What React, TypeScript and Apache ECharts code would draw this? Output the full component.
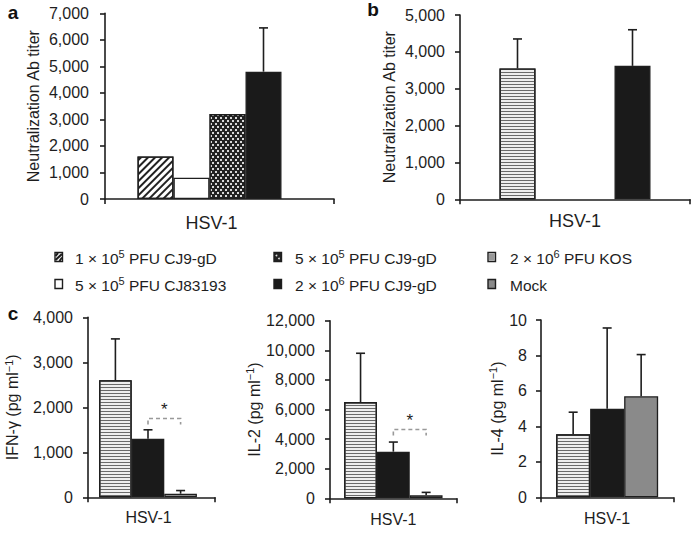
import React, { useEffect, useRef } from "react";
import * as echarts from "echarts";

// ---------- data ----------
const CATEGORIES = ["HSV-1"];

const GROUP_LABELS = [
  "1 × 10{sup|5} PFU CJ9-gD",
  "5 × 10{sup|5} PFU CJ83193",
  "5 × 10{sup|5} PFU CJ9-gD",
  "2 × 10{sup|6} PFU CJ9-gD",
  "2 × 10{sup|6} PFU KOS",
  "Mock",
];

// panel a: neutralization titer (groups: CJ9-gD 1e5, CJ83193 5e5, CJ9-gD 5e5, CJ9-gD 2e6)
const TITER_A = [1600, 800, 3200, 4800];
const TITER_A_ERR = [0, 0, 0, 1650];

// panel b: KOS 2e6, CJ9-gD 2e6
const TITER_B = [3550, 3620];
const TITER_B_ERR = [800, 980];

// panel c: KOS, CJ9-gD 2e6, Mock
const IFN = [2600, 1300, 80];
const IFN_ERR = [920, 200, 70];
const IL2 = [6500, 3150, 200];
const IL2_ERR = [3300, 650, 200];
const IL4 = [3.55, 5.0, 5.7];
const IL4_ERR = [1.25, 4.55, 2.35];

// significance brackets: [fromSlot, toSlot, level]
const IFN_SIG = [1, 2, 1750];
const IL2_SIG = [1, 2, 4650];

const Y_MAX = [7000, 5000, 4000, 12000, 10];
const Y_STEP = [1000, 1000, 1000, 2000, 2];

// ---------- styles ----------
const FONT = "'Liberation Sans', Arial, Helvetica, sans-serif";
const INK = "#1e1e1e";

const STYLE_HATCH = {
  color: "#ffffff",
  borderColor: INK,
  borderWidth: 1.3,
  decal: {
    symbol: "rect",
    symbolSize: 1,
    color: "#222",
    dashArrayX: [1, 0],
    dashArrayY: [2, 3],
    rotation: -Math.PI / 4,
  },
};
const STYLE_WHITE = { color: "#ffffff", borderColor: INK, borderWidth: 1.3 };
const STYLE_DOTS = {
  color: "#222",
  borderColor: INK,
  borderWidth: 1.3,
  decal: {
    symbol: "rect",
    symbolSize: 1,
    color: "#d8d8d8",
    dashArrayX: [
      [1.3, 2.7],
      [0, 2, 1.3, 0.7],
    ],
    dashArrayY: [1.3, 0.7],
    rotation: 0,
  },
};
const STYLE_BLACK = { color: "#1a1a1a", borderColor: INK, borderWidth: 1.3 };
const STYLE_STRIPE = {
  color: "#eeeeee",
  borderColor: INK,
  borderWidth: 1.3,
  decal: {
    symbol: "rect",
    symbolSize: 1,
    color: "#6a6a6a",
    dashArrayX: [1, 0],
    dashArrayY: [1, 2],
    rotation: 0,
  },
};
const STYLE_MOCK = { color: "#8a8a8a", borderColor: INK, borderWidth: 1.3 };

type Panel = {
  grid: { left: number; top: number; width: number; height: number };
  name: string;
  nameGap: number;
  labelMargin: number;
  xLabelMargin: number;
  xLabelSize: number;
  xLabelShift: number;
  values: number[];
  errs: number[];
  styles: any[];
  widths: number[]; // includes trailing spacer slot if any
  gap: number;
  sig?: number[];
};

const PANELS: Panel[] = [
  {
    grid: { left: 105, top: 13.3, width: 229, height: 185.7 },
    name: "Neutralization Ab titer",
    nameGap: 64,
    labelMargin: 16,
    xLabelMargin: 15,
    xLabelSize: 18,
    xLabelShift: 16,
    values: TITER_A,
    errs: TITER_A_ERR,
    styles: [STYLE_HATCH, STYLE_WHITE, STYLE_DOTS, STYLE_BLACK],
    widths: [36, 36, 36, 36, 20],
    gap: 0,
  },
  {
    grid: { left: 460, top: 15, width: 230, height: 184.3 },
    name: "Neutralization Ab titer",
    nameGap: 63,
    labelMargin: 15,
    xLabelMargin: 13,
    xLabelSize: 18,
    xLabelShift: 0,
    values: TITER_B,
    errs: TITER_B_ERR,
    styles: [STYLE_STRIPE, STYLE_BLACK],
    widths: [36, 36],
    gap: 79,
  },
  {
    grid: { left: 88, top: 317.3, width: 127, height: 180 },
    name: "IFN-γ (pg ml{sup|−1})",
    nameGap: 66,
    labelMargin: 15,
    xLabelMargin: 12,
    xLabelSize: 16,
    xLabelShift: 6,
    values: IFN,
    errs: IFN_ERR,
    styles: [STYLE_STRIPE, STYLE_BLACK, STYLE_MOCK],
    widths: [32.6, 32.6, 32.6, 7],
    gap: 0,
    sig: IFN_SIG,
  },
  {
    grid: { left: 330, top: 320.7, width: 126.7, height: 177.6 },
    name: "IL-2 (pg ml{sup|−1})",
    nameGap: 66,
    labelMargin: 15,
    xLabelMargin: 13,
    xLabelSize: 16,
    xLabelShift: 0,
    values: IL2,
    errs: IL2_ERR,
    styles: [STYLE_STRIPE, STYLE_BLACK, STYLE_MOCK],
    widths: [32.8, 32.8, 32.8],
    gap: 0,
    sig: IL2_SIG,
  },
  {
    grid: { left: 541, top: 320, width: 132.3, height: 177.3 },
    name: "IL-4 (pg ml{sup|−1})",
    nameGap: 34,
    labelMargin: 14,
    xLabelMargin: 13,
    xLabelSize: 16,
    xLabelShift: 0,
    values: IL4,
    errs: IL4_ERR,
    styles: [STYLE_STRIPE, STYLE_BLACK, STYLE_MOCK],
    widths: [34, 34, 34],
    gap: 0,
  },
];

function slotOffset(widths: number[], gap: number, slot: number) {
  const total = widths.reduce((s, w) => s + w, 0) + gap * (widths.length - 1);
  let off = -total / 2;
  for (let j = 0; j < slot; j++) off += widths[j] + gap;
  return off + widths[slot] / 2;
}

function buildOption() {
  const grids: any[] = [];
  const xAxes: any[] = [];
  const yAxes: any[] = [];
  const series: any[] = [];

  PANELS.forEach((p, k) => {
    grids.push({ ...p.grid, containLabel: false });
    xAxes.push({
      type: "category",
      gridIndex: k,
      data: CATEGORIES,
      boundaryGap: true,
      axisLine: { show: true, lineStyle: { color: INK, width: 1.6 } },
      axisTick: { show: true, length: 5, inside: false, alignWithLabel: false, lineStyle: { color: INK, width: 1.6 } },
      axisLabel: {
        color: INK,
        fontSize: p.xLabelSize,
        fontFamily: FONT,
        margin: p.xLabelMargin,
        padding: [0, p.xLabelShift, 0, 0],
      },
      splitLine: { show: false },
    });
    yAxes.push({
      type: "value",
      gridIndex: k,
      min: 0,
      max: Y_MAX[k],
      interval: Y_STEP[k],
      name: p.name,
      nameLocation: "middle",
      nameGap: p.nameGap,
      nameTextStyle: {
        color: INK,
        fontSize: 16,
        fontFamily: FONT,
        rich: { sup: { fontSize: 11, fontFamily: FONT, color: INK, padding: [0, 0, 8, 0] } },
      },
      axisLine: { show: true, lineStyle: { color: INK, width: 1.6 } },
      axisTick: { show: true, length: 5, inside: false, lineStyle: { color: INK, width: 1.6 } },
      axisLabel: {
        color: INK,
        fontSize: 16,
        fontFamily: FONT,
        margin: p.labelMargin,
        formatter: (v: number) => v.toLocaleString("en-US"),
      },
      splitLine: { show: false },
    });

    const barGap = p.gap === 0 ? "0%" : (p.gap / p.widths[0]) * 100 + "%";
    p.widths.forEach((w, i) => {
      const isData = i < p.values.length;
      series.push({
        type: "bar",
        xAxisIndex: k,
        yAxisIndex: k,
        barWidth: w,
        barGap,
        silent: true,
        data: isData ? [p.values[i]] : ["-"],
        itemStyle: isData ? p.styles[i] : { color: "transparent" },
      });
    });

    const widths = p.widths;
    const gap = p.gap;
    series.push({
      type: "custom",
      xAxisIndex: k,
      yAxisIndex: k,
      silent: true,
      z: 5,
      encode: { x: 0, y: 1 },
      data: p.values.map((v, i) => [0, v, p.errs[i], i]),
      renderItem: (params: any, api: any) => {
        const v = api.value(1);
        const e = api.value(2);
        const slot = api.value(3);
        if (!e) return { type: "group", children: [] };
        const base = api.coord([0, v]);
        const top = api.coord([0, v + e]);
        const x = base[0] + slotOffset(widths, gap, slot);
        const ls = { stroke: INK, lineWidth: 1.6 };
        return {
          type: "group",
          children: [
            { type: "line", shape: { x1: x, y1: base[1], x2: x, y2: top[1] }, style: ls },
            { type: "line", shape: { x1: x - 4.5, y1: top[1], x2: x + 4.5, y2: top[1] }, style: ls },
          ],
        };
      },
    });

    if (p.sig) {
      series.push({
        type: "custom",
        xAxisIndex: k,
        yAxisIndex: k,
        silent: true,
        z: 6,
        encode: { x: 0, y: 1 },
        data: [[0, p.sig[2], p.sig[0], p.sig[1]]],
        renderItem: (params: any, api: any) => {
          const y = api.value(1);
          const a = api.value(2);
          const b = api.value(3);
          const c = api.coord([0, y]);
          const xa = c[0] + slotOffset(widths, gap, a);
          const xb = c[0] + slotOffset(widths, gap, b);
          return {
            type: "group",
            children: [
              {
                type: "polyline",
                shape: { points: [[xa, c[1] + 6], [xa, c[1]], [xb, c[1]], [xb, c[1] + 6]] },
                style: { stroke: "#999", lineWidth: 1.6, fill: "none", lineDash: [4, 3] },
              },
              {
                type: "text",
                x: (xa + xb) / 2,
                y: c[1] - 9,
                style: { text: "*", fontSize: 17, fontFamily: FONT, fill: INK, align: "center", verticalAlign: "middle" },
              },
            ],
          };
        },
      });
    }
  });

  // legend built from graphic elements
  const LEGEND_COLS = [55, 274, 488];
  const LEGEND_TEXT_X = [75, 295, 510];
  const LEGEND_ROWS = [257, 284];
  const order = [
    [0, 0, 0],
    [1, 0, 1],
    [2, 1, 0],
    [3, 1, 1],
    [4, 2, 0],
    [5, 2, 1],
  ];
  const graphics: any[] = [];
  const iconW = 7.5;
  const iconH = 9;
  order.forEach(([gi, col, row]) => {
    const x = LEGEND_COLS[col];
    const y = LEGEND_ROWS[row] - iconH / 2;
    const border = { stroke: INK, lineWidth: 1.4 };
    const icon: any[] = [];
    if (gi === 0) {
      icon.push({ type: "rect", shape: { x, y, width: iconW, height: iconH }, style: { fill: "#fff", ...border } });
      icon.push({ type: "line", shape: { x1: x + 0.5, y1: y + iconH - 1.5, x2: x + iconW - 0.5, y2: y + 1.5 }, style: { stroke: INK, lineWidth: 2.2 } });
      icon.push({ type: "line", shape: { x1: x + 0.5, y1: y + 3.5, x2: x + 3, y2: y + 0.5 }, style: { stroke: INK, lineWidth: 2 } });
      icon.push({ type: "line", shape: { x1: x + 4.5, y1: y + iconH - 0.5, x2: x + iconW - 0.5, y2: y + iconH - 4 }, style: { stroke: INK, lineWidth: 2 } });
    } else if (gi === 1) {
      icon.push({ type: "rect", shape: { x, y, width: iconW, height: iconH }, style: { fill: "#fff", ...border } });
    } else if (gi === 2) {
      icon.push({ type: "rect", shape: { x, y, width: iconW, height: iconH }, style: { fill: "#222", ...border } });
      icon.push({ type: "circle", shape: { cx: x + 2.5, cy: y + 3, r: 0.9 }, style: { fill: "#ddd" } });
      icon.push({ type: "circle", shape: { cx: x + 5, cy: y + 6, r: 0.9 }, style: { fill: "#ddd" } });
    } else if (gi === 3) {
      icon.push({ type: "rect", shape: { x, y, width: iconW, height: iconH }, style: { fill: "#1a1a1a", ...border } });
    } else if (gi === 4) {
      icon.push({ type: "rect", shape: { x, y, width: iconW, height: iconH }, style: { fill: "#ddd", ...border } });
      [2.5, 4.5, 6.5].forEach((dy) =>
        icon.push({ type: "line", shape: { x1: x + 1, y1: y + dy, x2: x + iconW - 1, y2: y + dy }, style: { stroke: "#555", lineWidth: 1 } })
      );
    } else {
      icon.push({ type: "rect", shape: { x, y, width: iconW, height: iconH }, style: { fill: "#8a8a8a", ...border } });
    }
    graphics.push({ type: "group", silent: true, children: icon });
    graphics.push({
      type: "text",
      silent: true,
      x: LEGEND_TEXT_X[col],
      y: LEGEND_ROWS[row] + 1,
      style: {
        text: GROUP_LABELS[gi],
        fontSize: 15.5,
        fontFamily: FONT,
        fill: INK,
        verticalAlign: "middle",
        align: "left",
        rich: { sup: { fontSize: 11, fontFamily: FONT, fill: INK, padding: [0, 0, 8, 0] } },
      },
    });
  });

  const panelLabels = [
    ["a", 13, 12],
    ["b", 373, 9],
    ["c", 13, 313],
  ];
  panelLabels.forEach(([t, x, y]) => {
    graphics.push({
      type: "text",
      silent: true,
      x,
      y,
      style: { text: t, fontSize: 19, fontWeight: "bold", fontFamily: FONT, fill: "#111", align: "center", verticalAlign: "middle" },
    });
  });

  return {
    animation: false,
    backgroundColor: "#ffffff",
    grid: grids,
    xAxis: xAxes,
    yAxis: yAxes,
    series,
    graphic: graphics,
  };
}

export default function App() {
  const ref = useRef<HTMLDivElement>(null);
  useEffect(() => {
    if (!ref.current) return;
    const chart = echarts.init(ref.current, null, { renderer: "svg" });
    chart.setOption(buildOption() as any);
    return () => chart.dispose();
  }, []);
  return (
    <div
      ref={ref}
      style={{ position: "absolute", left: 0, top: 0, width: 697, height: 536, background: "#fff" }}
    />
  );
}
